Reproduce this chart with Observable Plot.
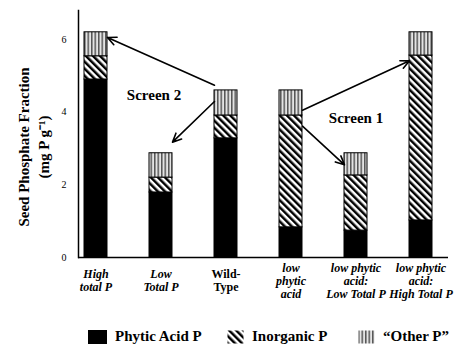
<!DOCTYPE html>
<html><head><meta charset="utf-8">
<script src="https://cdn.jsdelivr.net/npm/d3@7"></script>
<script src="https://cdn.jsdelivr.net/npm/@observablehq/plot@0.6"></script>
<style>
body{margin:0;background:#fff;}
#wrap{position:relative;width:462px;height:347px;overflow:hidden;font-family:"Liberation Serif","Times New Roman",serif;background:#fff;}
#legend{position:absolute;left:0;top:329px;width:462px;height:16px;}
.item{position:absolute;top:0;display:flex;align-items:center;font-weight:bold;font-size:15px;line-height:15px;color:#000;white-space:nowrap;}
.item svg{margin-right:8px;display:block;}
</style></head><body>
<svg width="0" height="0" style="position:absolute">
<defs>
<pattern id="hatch" patternUnits="userSpaceOnUse" width="5" height="5" patternTransform="rotate(-45)">
<rect width="5" height="5" fill="#fff"/><rect width="2.5" height="5" fill="#000"/>
</pattern>
<pattern id="vstripe" patternUnits="userSpaceOnUse" width="3.5" height="4">
<rect width="3.5" height="4" fill="#e4e4e4"/><rect width="1.5" height="4" fill="#555"/>
</pattern>
</defs></svg>
<div id="wrap"><div id="chart"></div><div id="legend"></div></div>
<script>
// ---- data ----
const categories = ["High total P","Low Total P","Wild-Type","low phytic acid","low phytic acid: Low Total P","low phytic acid: High Total P"];
const tickLabels = ["High\ntotal P","Low\nTotal P","Wild-\nType","low\nphytic\nacid","low phytic\nacid:\nLow Total P","low phytic\nacid:\nHigh Total P"];
const seriesNames = ["Phytic Acid P","Inorganic P","\u201COther P\u201D"];
const phytic    = [4.90, 1.79, 3.28, 0.83, 0.74, 1.02];
const inorganic = [0.64, 0.41, 0.63, 3.08, 1.52, 4.54];
const other     = [0.66, 0.67, 0.69, 0.69, 0.61, 0.64];
const yTicks = [0, 2, 4, 6];
const yTitle = "Seed Phosphate Fraction\n(mg P g\u207B\u00B9)";
const annotations = [
  {text: "Screen 2", cat: "Low Total P", value: 4.46},
  {text: "Screen 1", cat: "low phytic acid: Low Total P", value: 3.83}
];
const arrowLinks = [
  {from: "Wild-Type", to: "High total P", level: "total"},
  {from: "Wild-Type", to: "Low Total P", level: "total"},
  {from: "low phytic acid", to: "low phytic acid: High Total P", level: "inorganic"},
  {from: "low phytic acid", to: "low phytic acid: Low Total P", level: "inorganic"}
];

// ---- derived tables ----
const fills = {"Phytic Acid P": "#000", "Inorganic P": "url(#hatch)", "\u201COther P\u201D": "url(#vstripe)"};
const table = categories.flatMap((c, i) => [
  {cat: c, series: seriesNames[0], value: phytic[i]},
  {cat: c, series: seriesNames[1], value: inorganic[i]},
  {cat: c, series: seriesNames[2], value: other[i]}
]);
const labelOf = new Map(categories.map((c, i) => [c, tickLabels[i]]));
function levelOf(cat, level) {
  const i = categories.indexOf(cat);
  return level === "total" ? phytic[i] + inorganic[i] + other[i] : phytic[i] + inorganic[i];
}

const W = 462, H = 318, BASE = 257;
const font = "'Liberation Serif', 'Times New Roman', serif";

function makePlot(extra) {
  return Plot.plot({
    width: W, height: H,
    marginLeft: 78, marginRight: 14, marginTop: 10, marginBottom: H - BASE,
    style: {fontFamily: font, background: "#fff", color: "#000", overflow: "visible"},
    x: {type: "band", domain: categories, paddingInner: 0.649, paddingOuter: 0.145, align: 0.29, axis: null},
    y: {domain: [0, 6.8], axis: null},
    color: {domain: seriesNames, range: seriesNames.map(s => fills[s])},
    marks: [
      Plot.barY(table, {x: "cat", y: "value", fill: "series", order: seriesNames, stroke: "#000", strokeWidth: 1}),
      Plot.axisY({ticks: yTicks, tickFormat: d => String(d), tickSize: 0, tickPadding: 12, fontSize: 10, label: null}),
      Plot.frame({anchor: "left", strokeWidth: 1.5}),
      Plot.ruleY([0], {strokeWidth: 1.5}),
      Plot.text([yTitle], {frameAnchor: "left", rotate: -90, dx: -46, dy: 13, fontSize: 15, fontWeight: "bold",
        lineHeight: 1.35, textAnchor: "middle", lineAnchor: "middle"}),
      Plot.text(categories, {x: d => d, text: d => labelOf.get(d), filter: d => d !== "Wild-Type",
        frameAnchor: "bottom", dy: 23, lineAnchor: "middle", lineHeight: 1.08, fontSize: 12, fontWeight: "bold", fontStyle: "italic"}),
      Plot.text(categories, {x: d => d, text: d => labelOf.get(d), filter: d => d === "Wild-Type",
        frameAnchor: "bottom", dy: 23, lineAnchor: "middle", lineHeight: 1.08, fontSize: 12, fontWeight: "bold"}),
      Plot.text(annotations.slice(0, 1), {x: "cat", y: "value", text: "text", dx: -7, fontSize: 15, fontWeight: "bold"}),
      Plot.text(annotations.slice(1), {x: "cat", y: "value", text: "text", fontSize: 15, fontWeight: "bold"}),
      ...extra
    ]
  });
}

const probe = makePlot([]);
const xs = probe.scale("x"), ys = probe.scale("y");
const half = xs.bandwidth / 2;
const arrowMarks = arrowLinks.map(a => {
  const d = {from: a.from, to: a.to, y1: levelOf(a.from, a.level), y2: levelOf(a.to, a.level)};
  const pdx = Math.abs(xs.apply(d.to) - xs.apply(d.from));
  const pdy = ys.apply(d.y2) - ys.apply(d.y1);
  const inset = half * Math.hypot(pdx, pdy) / pdx;
  return Plot.arrow([d], {x1: "from", y1: "y1", x2: "to", y2: "y2", insetStart: inset, insetEnd: inset,
    stroke: "#000", strokeWidth: 1.6, headLength: 9, headAngle: 50});
});
document.getElementById("chart").append(makePlot(arrowMarks));

// ---- legend ----
const legendLeft = [88, 227, 358];
const legend = document.getElementById("legend");
seriesNames.forEach((s, i) => {
  const item = document.createElement("div");
  item.className = "item";
  item.style.left = legendLeft[i] + "px";
  item.innerHTML = `<svg width="${i === 0 ? 19 : 17}" height="14"><rect x="0.5" y="0.5" width="${i === 0 ? 18 : 16}" height="13" fill="${fills[s]}" stroke="${i === 0 ? "#000" : "none"}"/></svg><span>${s}</span>`;
  legend.append(item);
});
</script>
</body></html>
